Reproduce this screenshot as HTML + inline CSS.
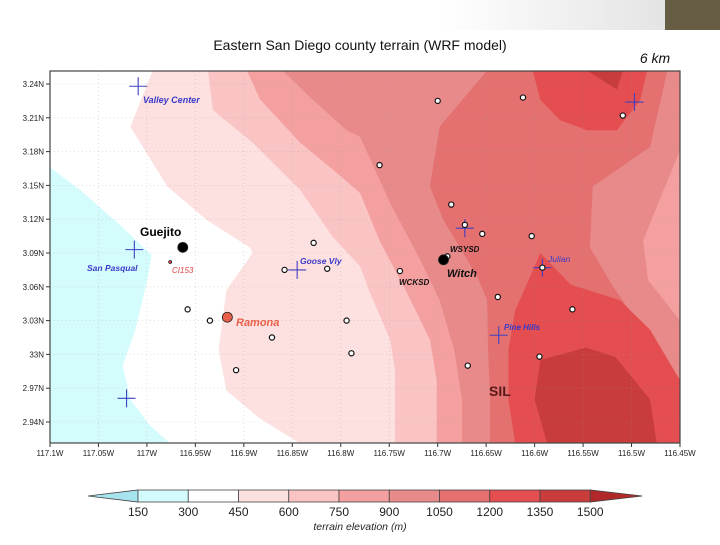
<!DOCTYPE html>
<html><head><meta charset="utf-8"><style>
body{margin:0;width:720px;height:540px;overflow:hidden;background:#fff;font-family:"Liberation Sans",sans-serif;}
svg text{font-family:"Liberation Sans",sans-serif;}
</style></head><body>
<svg id="s" width="720" height="540" viewBox="0 0 720 540">
<defs><linearGradient id="gb" x1="0" x2="1"><stop offset="0" stop-color="#fff"/><stop offset="1" stop-color="#e4e4e4"/></linearGradient>
<clipPath id="cp"><rect x="50" y="71" width="630" height="372"/></clipPath></defs>
<rect x="440" y="0" width="225" height="30" fill="url(#gb)"/>
<rect x="665" y="0" width="55" height="30" fill="#675d45"/>
<text x="360" y="50" text-anchor="middle" font-size="14" fill="#111">Eastern San Diego county terrain (WRF model)</text>
<text x="655" y="63" text-anchor="middle" font-size="14" font-style="italic" fill="#111">6 km</text>
<g id="plot" clip-path="url(#cp)"></g>
<g id="ov"></g>
</svg>
<script>
const lonMin=-117.1, lonMax=-116.45, latMin=2.9212, latMax=3.2515;
const xTickVals=[-117.1,-117.05,-117,-116.95,-116.9,-116.85,-116.8,-116.75,-116.7,-116.65,-116.6,-116.55,-116.5,-116.45];
const xTickLabels=["117.1W","117.05W","117W","116.95W","116.9W","116.85W","116.8W","116.75W","116.7W","116.65W","116.6W","116.55W","116.5W","116.45W"];
const yTickVals=[3.24,3.21,3.18,3.15,3.12,3.09,3.06,3.03,3.00,2.97,2.94];
const yTickLabels=["3.24N","3.21N","3.18N","3.15N","3.12N","3.09N","3.06N","3.03N","33N","2.97N","2.94N"];
const levels=[150,300,450,600,750,900,1050,1200,1350,1500];
const levelColors=["#a8e4f0","#d4fcfd","#ffffff","#fde0e0","#fbc4c4","#f5a0a0","#e88a8a","#e47070","#e44e50","#c83c3c","#b02828"];
const band150=[[-117.1,3.166],[-117.069,3.146],[-117.028,3.115],[-116.995,3.088],[-117.002,3.057],[-117.012,3.022],[-117.025,2.990],[-117.017,2.960],[-116.997,2.937],[-116.976,2.921],[-117.1,2.921]];
const band450=[[-116.994,3.252],[-117.017,3.202],[-116.979,3.149],[-116.938,3.119],[-116.894,3.095],[-116.891,3.090],[-116.918,3.057],[-116.926,3.004],[-116.918,2.968],[-116.885,2.944],[-116.842,2.921],[-116.45,2.921],[-116.45,3.252]];
const band600=[[-116.937,3.252],[-116.932,3.217],[-116.891,3.188],[-116.842,3.146],[-116.808,3.104],[-116.780,3.078],[-116.771,3.057],[-116.749,3.013],[-116.744,2.986],[-116.744,2.921],[-116.45,2.921],[-116.45,3.252]];
const band750=[[-116.897,3.252],[-116.883,3.226],[-116.842,3.188],[-116.804,3.161],[-116.780,3.143],[-116.760,3.101],[-116.733,3.057],[-116.708,3.013],[-116.701,2.977],[-116.701,2.921],[-116.45,2.921],[-116.45,3.252]];
const band900=[[-116.860,3.252],[-116.829,3.226],[-116.794,3.199],[-116.780,3.193],[-116.749,3.134],[-116.718,3.084],[-116.698,3.048],[-116.683,3.004],[-116.675,2.960],[-116.675,2.921],[-116.45,2.921],[-116.45,3.030],[-116.483,3.066],[-116.488,3.101],[-116.471,3.137],[-116.45,3.181],[-116.45,3.252]];
const band1050=[[-116.649,3.252],[-116.698,3.202],[-116.708,3.149],[-116.694,3.119],[-116.659,3.069],[-116.649,3.048],[-116.648,3.004],[-116.646,2.960],[-116.646,2.921],[-116.45,2.921],[-116.45,2.977],[-116.471,3.004],[-116.502,3.039],[-116.519,3.060],[-116.543,3.095],[-116.540,3.149],[-116.481,3.184],[-116.463,3.252]];
const band1200a=[[-116.602,3.252],[-116.594,3.226],[-116.574,3.208],[-116.546,3.199],[-116.515,3.199],[-116.491,3.226],[-116.484,3.252]];
const band1200b=[[-116.594,3.090],[-116.563,3.062],[-116.512,3.048],[-116.481,3.022],[-116.45,2.977],[-116.45,2.921],[-116.620,2.921],[-116.627,2.960],[-116.627,3.004],[-116.620,3.039]];
const band1350a=[[-116.546,3.252],[-116.509,3.252],[-116.515,3.235]];
const band1350b=[[-116.587,2.921],[-116.600,2.960],[-116.594,2.995],[-116.547,3.006],[-116.517,2.998],[-116.481,2.960],[-116.474,2.921]];
const stationLon=[-116.700,-116.612,-116.509,-116.760,-116.686,-116.672,-116.654,-116.603,-116.828,-116.858,-116.814,-116.739,-116.690,-116.592,-116.638,-116.561,-116.958,-116.935,-116.794,-116.871,-116.789,-116.595,-116.669,-116.908];
const stationLat=[3.225,3.228,3.212,3.168,3.133,3.115,3.107,3.105,3.099,3.075,3.076,3.074,3.087,3.077,3.051,3.040,3.040,3.030,3.030,3.015,3.001,2.998,2.990,2.986];
const crossLon=[-117.009,-117.013,-116.845,-116.672,-116.592,-116.637,-116.497,-117.021];
const crossLat=[3.238,3.093,3.075,3.112,3.077,3.017,3.224,2.961];
const NS="http://www.w3.org/2000/svg";
const X0=50,X1=680,Y0=84,Y1=422;
function x(lon){return X0+(lon-lonMin)/(lonMax-lonMin)*(X1-X0);}
function y(lat){return Y0+(3.24-lat)/(3.24-2.94)*(Y1-Y0);}
function mk(tag,attrs,parent){const e=document.createElementNS(NS,tag);for(const k in attrs)e.setAttribute(k,attrs[k]);parent.appendChild(e);return e;}
const plot=document.getElementById('plot'),ov=document.getElementById('ov'),svg=document.getElementById('s');
let r=mk('rect',{x:50,y:71,width:630,height:372,fill:'#fff'},plot);


const bands=[[band150,1,'band-150-300'],[band450,3,'band-450-600'],[band600,4,'band-600-750'],[band750,5,'band-750-900'],[band900,6,'band-900-1050'],[band1050,7,'band-1050-1200'],[band1200a,8,'band-1200-1350-north'],[band1200b,8,'band-1200-1350-south'],[band1350a,9,'band-1350-1500-north'],[band1350b,9,'band-1350-1500-south']];
bands.forEach(b=>{const p=mk('polygon',{points:b[0].map(q=>x(q[0]).toFixed(1)+','+y(q[1]).toFixed(1)).join(' '),fill:levelColors[b[1]]},plot);

});
xTickVals.forEach((v,i)=>{const g=mk('line',{x1:x(v),x2:x(v),y1:71,y2:443,stroke:'#999','stroke-dasharray':'1 3','stroke-width':0.6,opacity:0.5},plot);


const t=mk('line',{x1:x(v),x2:x(v),y1:443,y2:447,stroke:'#333'},ov);


const l=mk('text',{x:x(v),y:456,'text-anchor':'middle','font-size':8,fill:'#222'},ov);l.textContent=xTickLabels[i];

});
yTickVals.forEach((v,i)=>{const g=mk('line',{x1:50,x2:680,y1:y(v),y2:y(v),stroke:'#999','stroke-dasharray':'1 3','stroke-width':0.6,opacity:0.5},plot);


const t=mk('line',{x1:46,x2:50,y1:y(v),y2:y(v),stroke:'#333'},ov);


const l=mk('text',{x:44,y:y(v)+3,'text-anchor':'end','font-size':8,fill:'#222'},ov);l.textContent=yTickLabels[i];

});
const fr=mk('rect',{x:50,y:71,width:630,height:372,fill:'none',stroke:'#444','stroke-width':1.2},ov);


crossLon.forEach((v,i)=>{const cx=x(v),cy=y(crossLat[i]);const p=mk('path',{d:`M${cx-9},${cy}H${cx+9}M${cx},${cy-9}V${cy+9}`,stroke:'#4040c0','stroke-width':1.1,fill:'none'},ov);

});
stationLon.forEach((v,i)=>{const c=mk('circle',{cx:x(v),cy:y(stationLat[i]),r:2.6,fill:'#fff',stroke:'#111','stroke-width':1.2},ov);

});
function dot(lon,lat,rad,fill,name){const c=mk('circle',{cx:x(lon),cy:y(lat),r:rad,fill:fill,stroke:'#222','stroke-width':0.8},ov);

}
dot(-116.963,3.095,5,'#000','guejito-site');
dot(-116.694,3.084,5,'#000','witch-site');
dot(-116.917,3.033,5,'#e8604a','ramona-site');
dot(-116.976,3.082,1.5,'#e04040','ci153-site');
function lab(tx,px,py,sz,col,bold,it,name,anchor){const t=mk('text',{x:px,y:py,'font-size':sz,fill:col,'font-weight':bold?'bold':'normal','font-style':it?'italic':'normal','text-anchor':anchor||'start'},ov);t.textContent=tx;

}
lab('Valley Center',143,103,9,'#3a3ac8',true,true,'label-valley-center');
lab('San Pasqual',87,271,8.5,'#3a3ac8',true,true,'label-san-pasqual');
lab('Guejito',140,236,12,'#000',true,false,'label-guejito');
lab('CI153',172,273,8,'#e04040',false,true,'label-ci153');
lab('Goose Vly',300,264,8.5,'#3a3ac8',true,true,'label-goose-vly');
lab('WSYSD',450,252,8,'#111',true,true,'label-wsysd');
lab('Witch',447,277,11,'#111',true,true,'label-witch');
lab('WCKSD',399,285,8,'#111',true,true,'label-wcksd');
lab('Julian',548,262,8.5,'#3a3ac8',false,true,'label-julian');
lab('Pine Hills',504,330,8,'#3a3ac8',true,true,'label-pine-hills');
lab('Ramona',236,326,11,'#e8604a',true,true,'label-ramona');
lab('SIL',489,396,14,'#5a1a1a',true,false,'label-sil');
// colorbar
const cb0=138,cbw=50.25,cby=490,cbh=12;
const lt=mk('polygon',{points:`${cb0},${cby} ${cb0},${cby+cbh} 88,${cby+cbh/2}`,fill:levelColors[0],stroke:'#444','stroke-width':0.8},svg);


for(let i=0;i<levels.length-1;i++){const s=mk('rect',{x:cb0+i*cbw,y:cby,width:cbw,height:cbh,fill:levelColors[i+1],stroke:'#444','stroke-width':0.8},svg);

}
const cbEnd=cb0+(levels.length-1)*cbw;
const rt=mk('polygon',{points:`${cbEnd},${cby} ${cbEnd},${cby+cbh} ${cbEnd+52},${cby+cbh/2}`,fill:levelColors[10],stroke:'#444','stroke-width':0.8},svg);


levels.forEach((v,i)=>{const t=mk('text',{x:cb0+i*cbw,y:516,'text-anchor':'middle','font-size':12,fill:'#222'},svg);t.textContent=v;

});
const ct=mk('text',{x:360,y:530,'text-anchor':'middle','font-size':10.5,'font-style':'italic',fill:'#222'},svg);ct.textContent='terrain elevation (m)';


</script>
</body></html>
